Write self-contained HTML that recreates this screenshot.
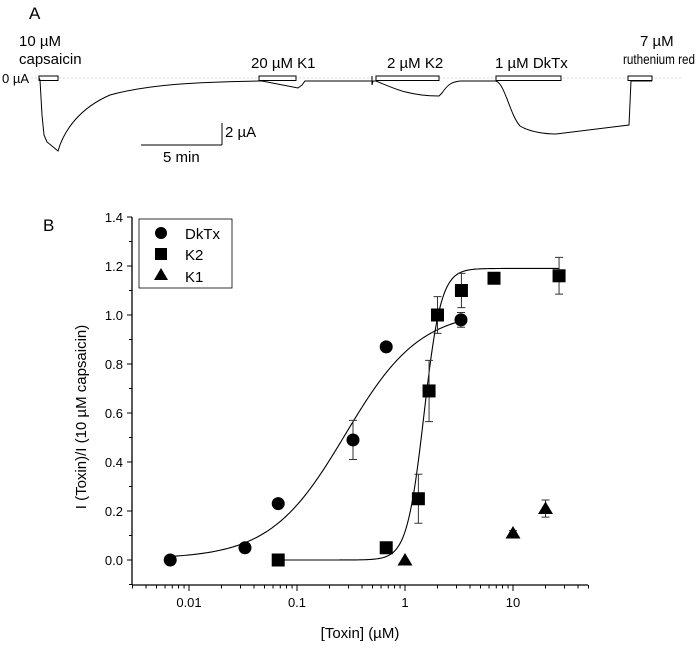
<!DOCTYPE html>
<html><head><meta charset="utf-8">
<style>
html,body{margin:0;padding:0;background:#fff;}
svg{display:block;font-family:"Liberation Sans",sans-serif;}
</style></head>
<body>
<svg id="fig" width="696" height="661" viewBox="0 0 696 661">
  <!-- Panel A -->
  <g>
    <text x="29" y="19" font-size="17">A</text>
    <line x1="31" y1="78" x2="682" y2="78" stroke="#ccc" stroke-width="0.8" stroke-dasharray="2,2"/>
    <text x="2" y="83" font-size="13">0 µA</text>
    <rect x="39" y="76" width="19" height="4.5" fill="#fff" stroke="#000" stroke-width="1"/>
    <rect x="259" y="76" width="37" height="4.5" fill="#fff" stroke="#000" stroke-width="1"/>
    <rect x="376" y="76" width="63" height="4.5" fill="#fff" stroke="#000" stroke-width="1"/>
    <rect x="496" y="76" width="65" height="4.5" fill="#fff" stroke="#000" stroke-width="1"/>
    <rect x="628" y="76" width="24" height="4.5" fill="#fff" stroke="#000" stroke-width="1"/>
    <text x="19" y="46" font-size="15">10 µM</text>
    <text x="19" y="64" font-size="15">capsaicin</text>
    <text x="251" y="68" font-size="15">20 µM K1</text>
    <text x="387" y="68" font-size="15">2 µM K2</text>
    <text x="495" y="68" font-size="15">1 µM DkTx</text>
    <text x="640" y="46" font-size="15">7 µM</text>
    <text x="623" y="64" font-size="14" textLength="72" lengthAdjust="spacingAndGlyphs">ruthenium red</text>
    <path d="M39,78 L40,80 L42,115 L44,135 L47,142 L52,146 L58,151 C64,130 80,108 110,95 C150,84 200,82 259,81 L262,81 L298,88 L302,85 L305,81 L372,81 L372,76 L372,85 L373,81 L376,81 C395,89 410,96 439,96 L442,93 C448,84 452,82 460,81 L496,81 C505,84 510,115 520,126 C530,132 545,134 556,134 L629,125 L631,81 L652,81" fill="none" stroke="#000" stroke-width="1"/>
    <line x1="141" y1="145" x2="222" y2="145" stroke="#000" stroke-width="1"/>
    <line x1="222" y1="123" x2="222" y2="145" stroke="#000" stroke-width="1"/>
    <text x="225" y="137" font-size="15">2 µA</text>
    <text x="163" y="162" font-size="15">5 min</text>
  </g>
  <!-- Panel B -->
  <text x="43" y="231" font-size="17">B</text>
  <g id="plot"></g>
  <text transform="translate(86,417) rotate(-90)" text-anchor="middle" font-size="15">I (Toxin)/I (10 µM capsaicin)</text>
  <text x="360" y="638" text-anchor="middle" font-size="15">[Toxin] (µM)</text>
  <g>
    <rect x="139" y="219" width="93" height="69" fill="#fff" stroke="#000" stroke-width="0.8"/>
    <circle cx="161" cy="233" r="6" fill="#000"/>
    <text x="185" y="239" font-size="15">DkTx</text>
    <rect x="155" y="248" width="12" height="12" fill="#000"/>
    <text x="185" y="260" font-size="15">K2</text>
    <polygon points="161,268 168,280 154,280" fill="#000"/>
    <text x="185" y="282" font-size="15">K1</text>
  </g>
</svg>
<script>
const yTicks = [0.0, 0.2, 0.4, 0.6, 0.8, 1.0, 1.2, 1.4];
const yTickLabels = ["0.0","0.2","0.4","0.6","0.8","1.0","1.2","1.4"];
const xTicks = [0.01, 0.1, 1, 10];
const xTickLabels = ["0.01","0.1","1","10"];
const dktxX = [0.0067, 0.033, 0.067, 0.33, 0.67, 3.3];
const dktxY = [0.0, 0.05, 0.23, 0.49, 0.87, 0.98];
const dktxErr = [0, 0.02, 0.015, 0.08, 0.0, 0.03];
const k2X = [0.067, 0.67, 1.33, 1.67, 2.0, 3.33, 6.67, 26.7];
const k2Y = [0.0, 0.05, 0.25, 0.69, 1.0, 1.1, 1.15, 1.16];
const k2Err = [0, 0, 0.1, 0.125, 0.075, 0.07, 0.02, 0.075];
const k1X = [1, 10, 20];
const k1Y = [0.0, 0.11, 0.21];
const k1Err = [0, 0.01, 0.035];
const dktxFit = [0.005, 1.02, 0.28, 1.25]; // bottom, top, EC50, hill
const k2Fit = [0.0, 1.19, 1.5, 5.5];

const NS = "http://www.w3.org/2000/svg";
const g = document.getElementById('plot');
const X0 = 132, X1 = 588, Y0 = 585, Ytop = 217;
const decade = 108;
function xs(v){ return 189 + (Math.log10(v) + 2) * decade; }
function ys(v){ return 560 - v * (560 - 217) / 1.4; }
function mk(tag, attrs){ const e = document.createElementNS(NS, tag); for (const k in attrs) e.setAttribute(k, attrs[k]); g.appendChild(e); return e; }

let e = mk('line', {x1:X0, y1:Ytop, x2:X0, y2:Y0, stroke:'#000', 'stroke-width':1.3});


e = mk('line', {x1:X0, y1:Y0, x2:X1, y2:Y0, stroke:'#000', 'stroke-width':1.3});



yTicks.forEach((v, i) => {
  const y = ys(v);
  const t = mk('line', {x1:X0-5, y1:y, x2:X0, y2:y, stroke:'#000', 'stroke-width':1});
  
  
  if (i < yTicks.length - 1) {
    const m = mk('line', {x1:X0-3, y1:ys(v+0.1), x2:X0, y2:ys(v+0.1), stroke:'#000', 'stroke-width':1});
    
    
  }
  const l = mk('text', {x:X0-9, y:y+5, 'text-anchor':'end', 'font-size':13});
  l.textContent = yTickLabels[i];
  
  
});
const mlow = mk('line', {x1:X0-3, y1:ys(-0.1), x2:X0, y2:ys(-0.1), stroke:'#000', 'stroke-width':1});



for (let d = -3; d <= 1; d++) {
  for (let k = 1; k <= 9; k++) {
    const v = k * Math.pow(10, d);
    const x = xs(v);
    if (x < X0 - 0.5 || x > X1 + 0.5) continue;
    const t = mk('line', {x1:x, y1:Y0, x2:x, y2:Y0 + (k === 1 ? 6 : 3.5), stroke:'#000', 'stroke-width':1});
    
    
  }
}
xTicks.forEach((v, i) => {
  const l = mk('text', {x:xs(v), y:607, 'text-anchor':'middle', 'font-size':13});
  l.textContent = xTickLabels[i];
  
  
});

function hill(p, x){ return p[0] + (p[1] - p[0]) / (1 + Math.pow(p[2] / x, p[3])); }
function fitPath(p, xa, xb){
  let d = '';
  const n = 200, la = Math.log10(xa), lb = Math.log10(xb);
  for (let i = 0; i <= n; i++) {
    const x = Math.pow(10, la + (lb - la) * i / n);
    d += (i ? 'L' : 'M') + xs(x).toFixed(2) + ',' + ys(hill(p, x)).toFixed(2);
  }
  return d;
}
const f1 = mk('path', {d:fitPath(dktxFit, dktxX[0], dktxX[dktxX.length-1]), fill:'none', stroke:'#000', 'stroke-width':1.1});


const f2 = mk('path', {d:fitPath(k2Fit, k2X[0], k2X[k2X.length-1]), fill:'none', stroke:'#000', 'stroke-width':1.1});



function errBar(x, y, err, name){
  if (!err) return;
  const cx = xs(x), y1 = ys(y + err), y2 = ys(y - err);
  const a = mk('path', {d:`M${cx},${y1}L${cx},${y2}M${cx-4},${y1}L${cx+4},${y1}M${cx-4},${y2}L${cx+4},${y2}`, stroke:'#333', 'stroke-width':1, fill:'none'});
  
  
}
dktxX.forEach((x, i) => {
  errBar(x, dktxY[i], dktxErr[i], 'dktx-error-bar');
  const c = mk('circle', {cx:xs(x), cy:ys(dktxY[i]), r:6.5, fill:'#000'});
  
  
});
k2X.forEach((x, i) => {
  errBar(x, k2Y[i], k2Err[i], 'k2-error-bar');
  const r = mk('rect', {x:xs(x)-6.5, y:ys(k2Y[i])-6.5, width:13, height:13, fill:'#000'});
  
  
});
k1X.forEach((x, i) => {
  errBar(x, k1Y[i], k1Err[i], 'k1-error-bar');
  const cx = xs(x), cy = ys(k1Y[i]);
  const p = mk('polygon', {points:`${cx},${cy-7} ${cx+7.5},${cy+5.5} ${cx-7.5},${cy+5.5}`, fill:'#000'});
  
  
});
</script>
</body></html>
